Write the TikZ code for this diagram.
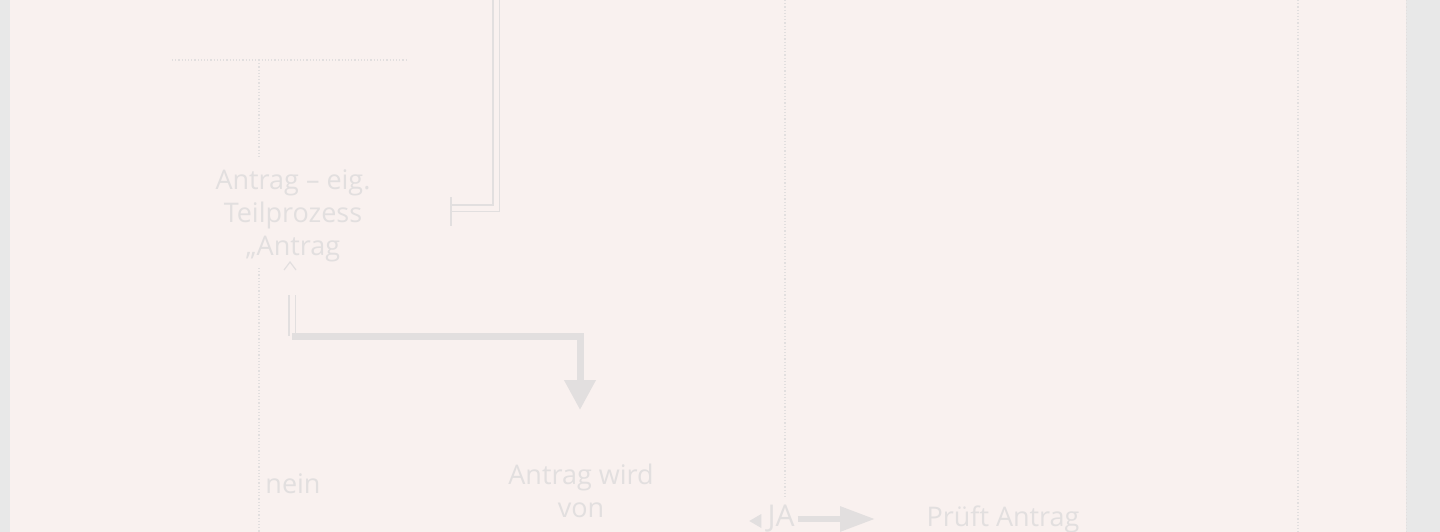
\documentclass[tikz,border=0pt]{standalone}
\usepackage{fontspec}
\setmainfont{Open Sans}
\usetikzlibrary{positioning,arrows.meta}
\definecolor{desk}{HTML}{E8E8E8}
\definecolor{page}{HTML}{F9F1EF}
\definecolor{ink}{HTML}{E2DFDF}
\begin{document}
\begin{tikzpicture}[x=1pt,y=-1pt,
                    lane/.style={draw=ink,line width=1.2pt,dotted},
                    label/.style={text=ink,align=center,inner sep=0pt,font=\fontsize{27}{33}\selectfont},
                    pipe/.style={draw=ink,double=page,double distance=5pt,line width=1.2pt},
                    flow/.style={draw=ink,line width=7pt,-{Triangle[width=30pt,length=30pt]}}
                ]
                \useasboundingbox (0,0) rectangle (1440,532);
                \fill[desk] (0,0) rectangle (1440,532);
                \fill[page] (10,0) rectangle (1406,532);
                \draw[lane,line width=0.6pt] (1406,0) -- (1406,532);
                    \foreach \x/\top/\bot in {785/0/497,1298/0/532}
                        {
                        \draw[lane] (\x,\top) -- (\x,\bot);
                    }
                \draw[lane] (172,60) -- (408,60);
                \draw[lane] (259,60) -- (259,157);
                \draw[lane] (259,268) -- (259,532);

                \node[label] (teil) at (293,216) {Antrag -- eig.\\Teilprozess\\„Antrag};
                \node[label] (nein) at (293,484) {nein};
                \node[label] (wird) at (581,491) {Antrag wird\\von};
                \node[label,font=\fontsize{30}{33}\selectfont] (ja) at (781,519) {JA};
                \node[label] (prueft) at (1003,519) {Prüft Antrag};

                \coordinate (oben) at (496,0);
                \coordinate (ein) at (451,208);
                \draw[pipe] (oben) |- (ein);
                \draw[ink,line width=1.5pt] (451,197) -- (451,226);
                \draw[ink,line width=1.2pt] (284,270) -- (290,262) -- (296,270);

                \coordinate (knick) at (292,336);
                \coordinate (ziel) at (580,410);
                \draw[pipe] (292,295) -- (knick);
                \draw[flow] (knick) -| (ziel);
                \coordinate (jaziel) at (875,519);
                \draw[flow,line width=6pt,-{Triangle[width=24pt,length=35pt]}] ([xshift=3pt]ja.east) -- (jaziel);
                \fill[ink] (ja.west) ++(-6,-5) -- ++(-12,7) -- ++(12,7) -- cycle;
\end{tikzpicture}
\end{document}
